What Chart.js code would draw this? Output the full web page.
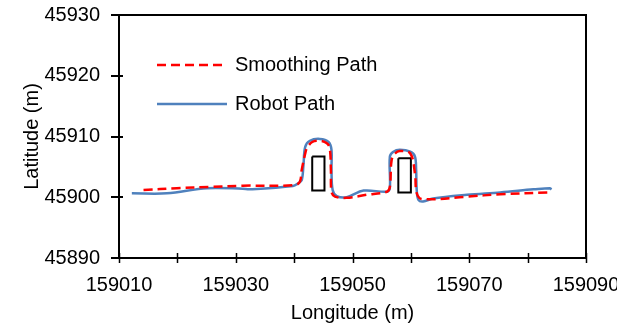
<!DOCTYPE html>
<html>
<head>
<meta charset="utf-8">
<script src="https://cdn.jsdelivr.net/npm/chart.js@4.4.1/dist/chart.umd.min.js"></script>
<style>
  html, body { margin: 0; padding: 0; background: #fff; }
  #wrap { width: 617px; height: 326px; overflow: hidden; }
</style>
</head>
<body>
<div id="wrap"><canvas id="grafico" width="636" height="326"></canvas></div>
<script>
// ---------- dados ----------
const smoothX = [159014.2, 159019.9, 159025.6, 159031.2, 159040.2, 159041.0, 159041.3, 159041.9, 159042.2,
  159043.1, 159044.4, 159045.6, 159046.1, 159046.3, 159046.4, 159047.0, 159049.0, 159052.4, 159055.9,
  159056.4, 159056.7, 159057.3, 159058.1, 159059.9, 159060.7, 159061.0, 159061.9, 159069.6, 159075.3, 159083.8];
const smoothY = [45901.2, 45901.5, 45901.7, 45901.9, 45902.0, 45902.6, 45904.5, 45907.2, 45908.1,
  45909.1, 45909.3, 45908.9, 45908.1, 45904.5, 45900.9, 45900.1, 45899.9, 45900.4, 45900.9,
  45901.7, 45906.1, 45907.2, 45907.6, 45907.2, 45903.9, 45900.7, 45899.7, 45900.1, 45900.5, 45900.8];

const robotX = [159012.2, 159018.2, 159025.1, 159031.2, 159032.4, 159039.8, 159040.7, 159041.3, 159041.6,
  159041.9, 159042.7, 159044.4, 159045.9, 159046.4, 159046.4, 159046.6, 159047.3, 159049.0, 159051.9,
  159055.9, 159056.4, 159056.4, 159057.0, 159058.1, 159059.9, 159060.7, 159060.9, 159061.0, 159061.3,
  159062.1, 159063.8, 159069.6, 159075.3, 159081.0, 159083.8, 159084.1];
const robotY = [45900.65, 45900.65, 45901.5, 45901.4, 45901.3, 45901.85, 45902.3, 45902.8, 45905.3,
  45908.3, 45909.3, 45909.6, 45909.1, 45907.8, 45904.5, 45901.2, 45900.2, 45900.0, 45901.1,
  45900.9, 45901.5, 45906.7, 45907.5, 45907.8, 45907.5, 45906.7, 45904.5, 45901.2, 45899.55,
  45899.3, 45899.8, 45900.4, 45900.8, 45901.3, 45901.5, 45901.3];

// obstáculos (retângulos)
const obst1X = [159043.1, 159045.2, 159045.2, 159043.1, 159043.1];
const obst1Y = [45906.7, 45906.7, 45901.1, 45901.1, 45906.7];
const obst2X = [159057.85, 159060.0, 159060.0, 159057.85, 159057.85];
const obst2Y = [45906.4, 45906.4, 45900.8, 45900.8, 45906.4];

// eixos
const xTickValues  = [159010, 159020, 159030, 159040, 159050, 159060, 159070, 159080, 159090];
const xLabelValues = [159010, 159030, 159050, 159070, 159090];
const yTickValues  = [45890, 45900, 45910, 45920, 45930];

const seriesNames = ['Smoothing Path', 'Robot Path'];

const toPoints = (xs, ys) => xs.map((x, i) => ({ x, y: ys[i] }));

const FONTE = "'Liberation Sans', Arial, sans-serif";

// ---------- moldura, marcas e legenda ----------
const moldura = {
  id: 'moldura',
  afterDraw(chart) {
    const { ctx, chartArea: a, scales: { x, y } } = chart;
    ctx.save();
    ctx.strokeStyle = '#000';
    ctx.lineWidth = 2;
    ctx.strokeRect(a.left, a.top, a.right - a.left, a.bottom - a.top);

    ctx.beginPath();
    yTickValues.forEach(v => {
      const py = Math.round(y.getPixelForValue(v));
      ctx.moveTo(a.left - 8, py);
      ctx.lineTo(a.left + 4, py);
    });
    ctx.stroke();
    ctx.lineWidth = 1.5;
    ctx.beginPath();
    xTickValues.forEach(v => {
      const px = Math.round(x.getPixelForValue(v)) + 0.5;
      ctx.moveTo(px, a.bottom - 5);
      ctx.lineTo(px, a.bottom + 5);
    });
    ctx.stroke();

    // legenda dentro da área do gráfico
    const itens = [
      { ds: chart.data.datasets[0], y: a.top + 50, len: 66 },
      { ds: chart.data.datasets[1], y: a.top + 89, len: 70 }
    ];
    itens.forEach(it => {
      ctx.strokeStyle = it.ds.borderColor;
      ctx.lineWidth = it.ds.borderWidth;
      ctx.setLineDash(it.ds.borderDash || []);
      ctx.beginPath();
      ctx.moveTo(a.left + 38, it.y);
      ctx.lineTo(a.left + 38 + it.len, it.y);
      ctx.stroke();
      ctx.setLineDash([]);
      ctx.fillStyle = '#000';
      ctx.font = '20px ' + FONTE;
      ctx.textBaseline = 'middle';
      ctx.fillText(it.ds.label, a.left + 116, it.y);
    });
    ctx.restore();
  }
};

const ctx = document.getElementById('grafico').getContext('2d');

new Chart(ctx, {
  type: 'scatter',
  data: {
    datasets: [
      {
        label: seriesNames[0],
        data: toPoints(smoothX, smoothY),
        showLine: true,
        borderColor: '#ff0000',
        borderWidth: 2.5,
        borderDash: [9, 5],
        pointRadius: 0,
        tension: 0.35
      },
      {
        label: seriesNames[1],
        data: toPoints(robotX, robotY),
        showLine: true,
        borderColor: '#4f81bd',
        borderWidth: 2.5,
        pointRadius: 0,
        tension: 0.35
      },
      {
        label: 'obst1',
        data: toPoints(obst1X, obst1Y),
        showLine: true,
        borderColor: '#000',
        borderWidth: 2,
        pointRadius: 0,
        tension: 0
      },
      {
        label: 'obst2',
        data: toPoints(obst2X, obst2Y),
        showLine: true,
        borderColor: '#000',
        borderWidth: 2,
        pointRadius: 0,
        tension: 0
      }
    ]
  },
  options: {
    responsive: false,
    animation: false,
    devicePixelRatio: 1,
    layout: { padding: { top: 0, right: 50, left: 0, bottom: 0 } },
    plugins: {
      legend: { display: false },
      tooltip: { enabled: false }
    },
    scales: {
      x: {
        type: 'linear',
        min: xTickValues[0],
        max: xTickValues[xTickValues.length - 1],
        afterFit: s => { s.height = 68; s.paddingLeft = 0; s.paddingRight = 0; },
        grid: { display: false, drawTicks: false },
        border: { display: false },
        ticks: {
          stepSize: 10,
          padding: 15,
          color: '#000',
          font: { family: FONTE, size: 20 },
          maxRotation: 0,
          autoSkip: false,
          callback: v => xLabelValues.includes(v) ? String(v) : ''
        },
        title: {
          display: true,
          text: 'Longitude (m)',
          color: '#000',
          font: { family: FONTE, size: 20 },
          padding: { top: 0, bottom: 1 }
        }
      },
      y: {
        type: 'linear',
        min: yTickValues[0],
        max: yTickValues[yTickValues.length - 1],
        afterFit: s => { s.width = 119; s.paddingTop = 15; s.paddingBottom = 0; },
        grid: { display: false, drawTicks: false },
        border: { display: false },
        ticks: {
          stepSize: 10,
          padding: 19,
          color: '#000',
          font: { family: FONTE, size: 20 },
          callback: v => yTickValues.includes(v) ? String(v) : ''
        },
        title: {
          display: true,
          text: 'Latitude (m)',
          color: '#000',
          font: { family: FONTE, size: 20 },
          padding: { top: 20, bottom: 0 }
        }
      }
    }
  },
  plugins: [moldura]
});
</script>
</body>
</html>
